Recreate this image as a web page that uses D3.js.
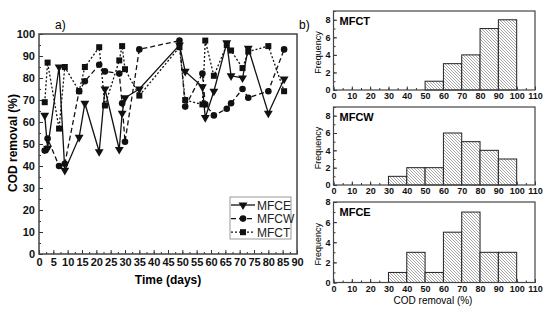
<!DOCTYPE html>
<html>
<head>
<meta charset="utf-8">
<script src="https://cdn.jsdelivr.net/npm/d3@7"></script>
<style>
  body { margin: 0; background: #fff; }
  svg { font-family: "Liberation Sans", Arial, sans-serif; }
</style>
</head>
<body>
<div id="chart"></div>
<script>
// time series (days) and COD removal (%)
var days = [2, 3, 7, 9, 14, 16, 21, 23, 28, 29, 30, 35, 49, 51, 57, 58, 61, 65.5, 67, 71, 73, 80, 85.5];
var mfce = [63, 48, 85, 38, 53, 68.5, 46.5, 75, 47.5, 64, 71, 75, 95, 83, 76, 62, 74, 96, 81, 80, 93.5, 64, 79.5];
var mfcw = [47, 52.5, 40, 41, 74, 78.5, 86, 83, 82, 68.5, 51, 93, 97, 67, 82, 68, 63, 66, 68.5, 75, 71, 74, 93];
var mfct = [69, 87, 57, 85, 74, 85, 94, 67.5, 88, 94.5, 84, 72, 94, 70, 68, 97, 81, 95, 92.5, 84.5, 92, 94.5, 74];

// histogram bins (COD removal %) and counts
var binStarts = [0, 10, 20, 30, 40, 50, 60, 70, 80, 90];
var histMFCT = [0, 0, 0, 0, 0, 1, 3, 4, 7, 8];
var histMFCW = [0, 0, 0, 1, 2, 2, 6, 5, 4, 3];
var histMFCE = [0, 0, 0, 1, 3, 1, 5, 7, 3, 3];

var width = 550, height = 321;
var svg = d3.select("#chart").append("svg").attr("width", width).attr("height", height);

var defs = svg.append("defs");
var pat = defs.append("pattern")
    .attr("id", "hatch")
    .attr("patternUnits", "userSpaceOnUse")
    .attr("width", 3).attr("height", 3);
pat.append("rect").attr("width", 3).attr("height", 3).attr("fill", "white");
pat.append("path")
    .attr("d", "M-1,-1 L4,4 M-1,2 L1,4 M2,-1 L4,1")
    .attr("stroke", "#808080")
    .attr("stroke-width", 0.7);

// ---------- a) time series ----------
var xScale = d3.scaleLinear().domain([0, 90]).range([39, 297]);
var yScale = d3.scaleLinear().domain([0, 100]).range([254, 34]);

var g = svg.append("g");

// minor ticks
g.append("g")
    .attr("transform", "translate(0," + yScale(0) + ")")
    .call(d3.axisBottom(xScale).tickValues(d3.range(0, 90.1, 2.5)).tickSize(-2).tickFormat(""));
g.append("g")
    .attr("transform", "translate(" + xScale(0) + ",0)")
    .call(d3.axisLeft(yScale).tickValues(d3.range(0, 100.1, 5)).tickSize(-2).tickFormat(""));

var axX = g.append("g")
    .attr("transform", "translate(0," + yScale(0) + ")")
    .call(d3.axisBottom(xScale).tickValues(d3.range(0, 91, 5)).tickSize(-4).tickPadding(4));
var axY = g.append("g")
    .attr("transform", "translate(" + xScale(0) + ",0)")
    .call(d3.axisLeft(yScale).tickValues(d3.range(0, 101, 10)).tickSize(-4).tickPadding(4));

[axX, axY].forEach(function(a) {
    a.select(".domain").remove();
    a.selectAll("text").attr("font-size", "11px").attr("font-weight", "bold").attr("fill", "#111");
});
g.selectAll(".tick line").attr("stroke", "#333");
g.selectAll(".domain").remove();

g.append("rect")
    .attr("x", xScale(0)).attr("y", yScale(100))
    .attr("width", xScale(90) - xScale(0)).attr("height", yScale(0) - yScale(100))
    .attr("fill", "none").attr("stroke", "#444").attr("stroke-width", 1.5);

var series = [
    {name: "MFCE", values: mfce, dash: null, symbol: "tri"},
    {name: "MFCW", values: mfcw, dash: "5,3", symbol: "circle"},
    {name: "MFCT", values: mfct, dash: "2,2", symbol: "square"}
];

function drawMarker(sel, type) {
    if (type === "tri") {
        sel.append("path")
            .attr("d", d3.symbol().type(d3.symbolTriangle).size(34)())
            .attr("transform", "rotate(180)")
            .attr("fill", "#111");
    } else if (type === "circle") {
        sel.append("circle").attr("r", 3.3).attr("fill", "#111");
    } else {
        sel.append("rect").attr("x", -3).attr("y", -3).attr("width", 6).attr("height", 6).attr("fill", "#111");
    }
}

var line = d3.line()
    .x(function(d) { return xScale(d[0]); })
    .y(function(d) { return yScale(d[1]); });

series.forEach(function(s) {
    var pts = days.map(function(d, i) { return [d, s.values[i]]; });
    g.append("path")
        .attr("d", line(pts))
        .attr("fill", "none")
        .attr("stroke", "#111")
        .attr("stroke-width", 1.3)
        .attr("stroke-dasharray", s.dash);
    pts.forEach(function(p) {
        var m = g.append("g").attr("transform", "translate(" + xScale(p[0]) + "," + yScale(p[1]) + ")");
        drawMarker(m, s.symbol);
    });
});

g.append("text").attr("x", 55).attr("y", 29).attr("font-size", "12px").text("a)");
g.append("text")
    .attr("x", 168).attr("y", 284)
    .attr("text-anchor", "middle").attr("font-size", "12px").attr("font-weight", "bold")
    .text("Time (days)");
g.append("text")
    .attr("transform", "translate(17,143) rotate(-90)")
    .attr("text-anchor", "middle").attr("font-size", "12px").attr("font-weight", "bold")
    .text("COD removal (%)");

// legend
var lg = g.append("g");
lg.append("rect").attr("x", 230).attr("y", 197).attr("width", 61).attr("height", 42)
    .attr("fill", "white").attr("stroke", "#999");
series.forEach(function(s, i) {
    var yy = 205 + i * 13.6;
    lg.append("line").attr("x1", 231).attr("x2", 255).attr("y1", yy).attr("y2", yy)
        .attr("stroke", "#111").attr("stroke-width", 1.3).attr("stroke-dasharray", s.dash);
    drawMarker(lg.append("g").attr("transform", "translate(243," + yy + ")"), s.symbol);
    lg.append("text").attr("x", 257).attr("y", yy + 4.5).attr("font-size", "12px").attr("fill", "#222").text(s.name);
});

// ---------- b) histograms ----------
svg.append("text").attr("x", 299).attr("y", 29).attr("font-size", "12px").text("b)");

var hx = d3.scaleLinear().domain([0, 110]).range([333.5, 535]);

var panels = [
    {name: "MFCT", counts: histMFCT, top: 11, bottom: 90, ymax: 9},
    {name: "MFCW", counts: histMFCW, top: 107, bottom: 185, ymax: 9},
    {name: "MFCE", counts: histMFCE, top: 202, bottom: 282.5, ymax: 8}
];

panels.forEach(function(p) {
    var hy = d3.scaleLinear().domain([0, p.ymax]).range([p.bottom, p.top]);
    var hg = svg.append("g");

    hg.append("g").attr("transform", "translate(0," + p.bottom + ")")
        .call(d3.axisBottom(hx).tickValues(d3.range(0, 110.1, 5)).tickSize(-2).tickFormat(""));
    hg.append("g").attr("transform", "translate(" + hx(0) + ",0)")
        .call(d3.axisLeft(hy).tickValues(d3.range(0, p.ymax + 0.1, 1)).tickSize(-2).tickFormat(""));
    var ax = hg.append("g").attr("transform", "translate(0," + p.bottom + ")")
        .call(d3.axisBottom(hx).tickValues(d3.range(0, 111, 10)).tickSize(-3.5).tickPadding(3));
    var ay = hg.append("g").attr("transform", "translate(" + hx(0) + ",0)")
        .call(d3.axisLeft(hy).tickValues(d3.range(0, 8.1, 2)).tickSize(-3.5).tickPadding(3));
    [ax, ay].forEach(function(a) {
        a.selectAll("text").attr("font-size", "9px").attr("font-weight", "bold").attr("fill", "#111");
    });
    hg.selectAll(".domain").remove();
    hg.selectAll(".tick line").attr("stroke", "#333");

    hg.append("g").selectAll("rect")
        .data(binStarts)
        .enter()
        .append("rect")
        .filter(function(d, i) { return p.counts[i] > 0; })
        .attr("x", function(d) { return hx(d); })
        .attr("width", function(d) { return hx(d + 10) - hx(d); })
        .attr("y", function(d, i) { return hy(p.counts[binStarts.indexOf(d)]); })
        .attr("height", function(d) { return p.bottom - hy(p.counts[binStarts.indexOf(d)]); })
        .attr("fill", "url(#hatch)")
        .attr("stroke", "#222")
        .attr("stroke-width", 1);

    hg.append("rect")
        .attr("x", hx(0)).attr("y", p.top)
        .attr("width", hx(110) - hx(0)).attr("height", p.bottom - p.top)
        .attr("fill", "none").attr("stroke", "#444").attr("stroke-width", 1.2);

    hg.append("text").attr("x", hx(0) + 6).attr("y", p.top + 14)
        .attr("font-size", "11px").attr("font-weight", "bold").text(p.name);
    hg.append("text")
        .attr("transform", "translate(321," + ((p.top + p.bottom) / 2 + 2) + ") rotate(-90)")
        .attr("text-anchor", "middle").attr("font-size", "9px").text("Frequency");
});

svg.append("text").attr("x", 433).attr("y", 304)
    .attr("text-anchor", "middle").attr("font-size", "10px").text("COD removal (%)");
</script>
</body>
</html>
